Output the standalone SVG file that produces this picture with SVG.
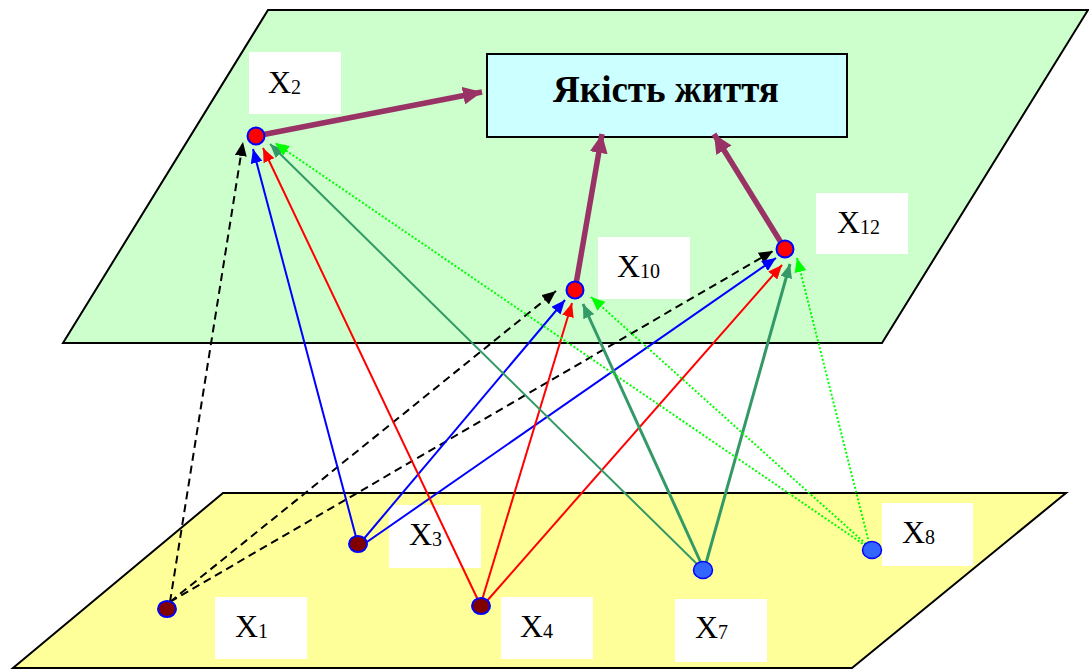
<svg xmlns="http://www.w3.org/2000/svg" width="1089" height="669" viewBox="0 0 1089 669">
<style>
.plane{stroke:#000;stroke-width:2}
.lbl{fill:#fff}
.t{font-family:"Liberation Serif","Times New Roman",serif;font-size:32px;fill:#000}
.sub{font-size:20px}
.up{fill:#f00;stroke:#00f;stroke-width:2}
.lo{fill:#800000;stroke:#00f;stroke-width:2}
.lb{fill:#3366ff;stroke:#00f;stroke-width:1.5}
.e{fill:none;stroke-width:2}
.w{stroke-width:3}
.k{stroke:#000;stroke-dasharray:8 5;marker-end:url(#mk)}
.b{stroke:#00f;marker-end:url(#mb)}
.r{stroke:#f00;marker-end:url(#mr)}
.g{stroke:#339966;marker-end:url(#mg)}
.d{stroke:#00ff00;stroke-dasharray:2 2;marker-end:url(#md)}
.p{fill:none;stroke:#993366;stroke-width:5.5;marker-end:url(#mp)}
</style>
<defs>
<marker id="mk" markerUnits="userSpaceOnUse" viewBox="0 0 14 12" markerWidth="14" markerHeight="12" refX="14" refY="6" orient="auto"><path d="M0,0 L14,6 L0,12 z" fill="#000"/></marker>
<marker id="mb" markerUnits="userSpaceOnUse" viewBox="0 0 14 12" markerWidth="14" markerHeight="12" refX="14" refY="6" orient="auto"><path d="M0,0 L14,6 L0,12 z" fill="#00f"/></marker>
<marker id="mr" markerUnits="userSpaceOnUse" viewBox="0 0 14 12" markerWidth="14" markerHeight="12" refX="14" refY="6" orient="auto"><path d="M0,0 L14,6 L0,12 z" fill="#f00"/></marker>
<marker id="mg" markerUnits="userSpaceOnUse" viewBox="0 0 14 12" markerWidth="14" markerHeight="12" refX="14" refY="6" orient="auto"><path d="M0,0 L14,6 L0,12 z" fill="#339966"/></marker>
<marker id="md" markerUnits="userSpaceOnUse" viewBox="0 0 14 12" markerWidth="14" markerHeight="12" refX="14" refY="6" orient="auto"><path d="M0,0 L14,6 L0,12 z" fill="#00ff00"/></marker>
<marker id="mp" markerUnits="userSpaceOnUse" viewBox="0 0 19 18" markerWidth="19" markerHeight="18" refX="19" refY="9" orient="auto"><path d="M0,0 L19,9 L0,18 z" fill="#993366"/></marker>
</defs>
<g id="planes">
<polygon class="plane" points="268,10 1088,10 882,343 63,343" fill="#ccffcc"/>
<polygon class="plane" points="223,493 1066,493 852,668 13,668" fill="#ffff99"/>
</g>
<g id="labels">
<rect class="lbl" x="249" y="52" width="92" height="62"/>
<rect class="lbl" x="598" y="237" width="92" height="62"/>
<rect class="lbl" x="816" y="193" width="92" height="61"/>
<rect class="lbl" x="389" y="505" width="92" height="63"/>
<rect class="lbl" x="215" y="597" width="92" height="62"/>
<rect class="lbl" x="501" y="597" width="92" height="62"/>
<rect class="lbl" x="675" y="599" width="92" height="63"/>
<rect class="lbl" x="882" y="503" width="91" height="63"/>
</g>
<g id="quality">
<rect x="487" y="54" width="360" height="83" fill="#ccffff" stroke="#000" stroke-width="2"/>
<text x="666" y="102" text-anchor="middle" font-family="Liberation Serif,Times New Roman,serif" font-size="37" font-weight="bold">Якість життя</text>
</g>
<g id="connectors">
<line class="e k" x1="170" y1="602" x2="243" y2="142"/>
<line class="e k" x1="170" y1="602" x2="556" y2="291"/>
<line class="e k" x1="170" y1="602" x2="773" y2="251"/>
<line class="e b" x1="356" y1="537" x2="253" y2="149"/>
<line class="e b" x1="362" y1="541" x2="565" y2="300"/>
<line class="e b" x1="364" y1="544" x2="776" y2="258"/>
<line class="e r" x1="478" y1="600" x2="263" y2="148"/>
<line class="e r" x1="482" y1="600" x2="572" y2="303"/>
<line class="e r" x1="486" y1="602" x2="782" y2="265"/>
<line class="e g" x1="698" y1="565" x2="270" y2="144"/>
<line class="e w g" x1="701" y1="563" x2="583" y2="304"/>
<line class="e w g" x1="706" y1="563" x2="790" y2="264"/>
<line class="e d" x1="866" y1="546" x2="275" y2="143"/>
<line class="e d" x1="866" y1="544" x2="591" y2="297"/>
<line class="e d" x1="869" y1="543" x2="797" y2="258"/>
<line class="p" x1="256" y1="136" x2="482" y2="92"/>
<line class="p" x1="575" y1="290" x2="602" y2="134"/>
<line class="p" x1="785" y1="249" x2="714" y2="134"/>
</g>
<g id="X2"><circle class="up" cx="256" cy="136" r="8.5"/><text class="t" x="268" y="93">X<tspan class="sub" dy="1">2</tspan></text></g>
<g id="X10"><circle class="up" cx="575" cy="290" r="8.5"/><text class="t" x="617" y="277">X<tspan class="sub" dy="1">10</tspan></text></g>
<g id="X12"><circle class="up" cx="785" cy="249" r="8.5"/><text class="t" x="837" y="233">X<tspan class="sub" dy="1">12</tspan></text></g>
<g id="X1"><ellipse class="lo" cx="167" cy="609" rx="9" ry="8"/><text class="t" x="235" y="637">X<tspan class="sub" dy="1">1</tspan></text></g>
<g id="X3"><ellipse class="lo" cx="358" cy="544" rx="9" ry="8"/><text class="t" x="409" y="545">X<tspan class="sub" dy="1">3</tspan></text></g>
<g id="X4"><ellipse class="lo" cx="481" cy="606" rx="9" ry="8"/><text class="t" x="520" y="637">X<tspan class="sub" dy="1">4</tspan></text></g>
<g id="X7"><ellipse class="lb" cx="703" cy="570" rx="9.5" ry="8.5"/><text class="t" x="695" y="638">X<tspan class="sub" dy="1">7</tspan></text></g>
<g id="X8"><ellipse class="lb" cx="872" cy="550" rx="9.5" ry="8.5"/><text class="t" x="902" y="543">X<tspan class="sub" dy="1">8</tspan></text></g>
</svg>
